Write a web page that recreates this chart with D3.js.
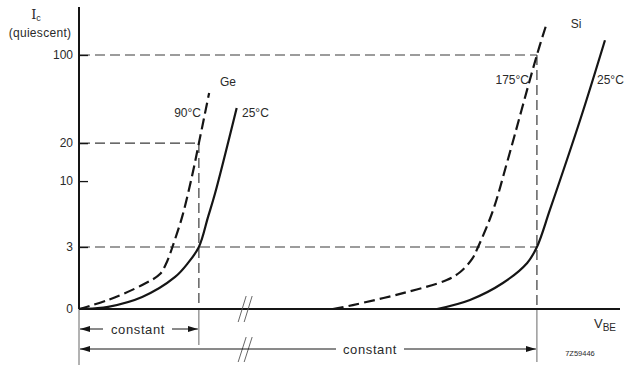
<!DOCTYPE html>
<html>
<head>
<meta charset="utf-8">
<title>Ic quiescent vs VBE</title>
<script src="https://cdn.jsdelivr.net/npm/d3@7/dist/d3.min.js"></script>
<style>
  body { margin: 0; background: #fff; }
  text { font-family: "Liberation Sans", "DejaVu Sans", sans-serif; fill: #2a2a2a; }
</style>
</head>
<body>
<svg width="626" height="365" id="mainsvg"></svg>
<script>
// values: [V_BE (arbitrary units, 0..100), Ic]
const ge90 = [[0, 0], [5.4, 0.44], [11.7, 1.16], [15, 1.69], [16.1, 2.18], [16.85, 2.66], [17.3, 3], [19.1, 5.2], [20.9, 10.8], [22.2, 20], [24.1, 50]]
const ge25 = [[0, 0], [3, 0.03], [5.4, 0.1], [11.7, 0.58], [17.8, 1.55], [20.2, 2.23], [22.2, 3], [23.9, 5.2], [25.2, 8], [29.2, 38]]
const si175 = [[47, 0], [50.7, 0.19], [60, 0.77], [68.1, 1.4], [70.6, 1.79], [72.8, 2.42], [73.9, 3], [76.7, 5.9], [79.4, 14.7], [84.8, 100], [86.7, 183]]
const si25 = [[66.3, 0], [72.4, 0.44], [78.5, 1.26], [83, 2.23], [84.8, 3], [87.2, 5.9], [92.8, 30.5], [97.4, 131]]

const yTicks = [3, 10, 20, 100]
const geMark = 22.2   // V_BE where Ge curves are read
const siMark = 84.8   // V_BE where Si curves are read
const breakAt = 30.4

const svg = d3.select('#mainsvg')

// x: arbitrary V_BE units
const x = d3.scaleLinear().domain([0, 100]).range([79, 619])
// y: linear from 0 to 3, log above 3
const yLog = d3.scaleLog().domain([3, 100]).range([247, 55])
const yLin = d3.scaleLinear().domain([0, 3]).range([309, 247])
const y = v => v >= 3 ? yLog(v) : yLin(v)

const ink = '#151515'
const guide = '#3a3a3a'

// arrow markers
const defs = svg.append('defs')
defs.append('marker').attr('id', 'arrEnd')
    .attr('viewBox', '0 0 10 6').attr('refX', 10).attr('refY', 3)
    .attr('markerWidth', 10).attr('markerHeight', 6).attr('markerUnits', 'userSpaceOnUse')
    .attr('orient', 'auto')
    .append('path').attr('d', 'M0,0L10,3L0,6Z').attr('fill', ink)
defs.append('marker').attr('id', 'arrStart')
    .attr('viewBox', '0 0 10 6').attr('refX', 0).attr('refY', 3)
    .attr('markerWidth', 10).attr('markerHeight', 6).attr('markerUnits', 'userSpaceOnUse')
    .attr('orient', 'auto')
    .append('path').attr('d', 'M10,0L0,3L10,6Z').attr('fill', ink)

// dashed reading guides
const guides = svg.append('g')
    .attr('stroke', guide).attr('stroke-width', 1.2).attr('stroke-dasharray', '10,5').attr('fill', 'none')
const hGuides = [[100, siMark], [20, geMark], [3, siMark]]
hGuides.forEach(([lvl, to]) => {
    guides.append('line').attr('x1', x(0) + 1).attr('x2', x(to)).attr('y1', y(lvl)).attr('y2', y(lvl))
})
const vGuides = [[geMark, 20], [siMark, 100]]
vGuides.forEach(([v, lvl]) => {
    guides.append('line').attr('x1', x(v)).attr('x2', x(v)).attr('y1', y(lvl)).attr('y2', y(0))
})

// thin extension lines below the axis
const ext = svg.append('g').attr('stroke', '#555').attr('stroke-width', 0.9)
ext.append('line').attr('x1', x(0)).attr('x2', x(0)).attr('y1', y(0)).attr('y2', 365)
ext.append('line').attr('x1', x(geMark)).attr('x2', x(geMark)).attr('y1', y(0)).attr('y2', 345)
ext.append('line').attr('x1', x(siMark)).attr('x2', x(siMark)).attr('y1', y(0)).attr('y2', 362)

// axes
svg.append('line').attr('x1', x(0)).attr('x2', x(0)).attr('y1', 7).attr('y2', y(0))
    .attr('stroke', ink).attr('stroke-width', 2)
svg.append('line').attr('x1', x(0)).attr('x2', 620).attr('y1', y(0)).attr('y2', y(0))
    .attr('stroke', ink).attr('stroke-width', 2)

const axLog = d3.axisLeft(yLog).tickValues(yTicks).tickFormat(d3.format('d'))
    .tickSizeInner(-9).tickSizeOuter(0).tickPadding(6)
const axLin = d3.axisLeft(yLin).tickValues([0]).tickFormat(d3.format('d'))
    .tickSizeInner(0).tickSizeOuter(0).tickPadding(6)
;[axLog, axLin].forEach(ax => {
    const g = svg.append('g').attr('transform', `translate(${x(0)},0)`).call(ax)
    g.select('.domain').remove()
    g.selectAll('line').attr('stroke', ink).attr('stroke-width', 1.3)
    g.selectAll('text').attr('font-size', 12).attr('fill', '#2a2a2a')
        .style('font-family', '"Liberation Sans", sans-serif')
})

// curves
const line = d3.line().x(d => x(d[0])).y(d => y(d[1])).curve(d3.curveCatmullRom.alpha(0.5))
const curves = [
    {data: ge90, dash: '11,5'},
    {data: ge25, dash: null},
    {data: si175, dash: '11,5'},
    {data: si25, dash: null}
]
svg.append('g').selectAll('path').data(curves).join('path')
    .attr('d', d => line(d.data))
    .attr('fill', 'none').attr('stroke', ink).attr('stroke-width', 2.2)
    .attr('stroke-dasharray', d => d.dash)

// axis break marks
const breaks = [[296, 322], [337, 362]]
breaks.forEach(([t, b]) => {
    [0, 6].forEach(off => {
        svg.append('line')
            .attr('x1', x(breakAt) - 5 + off).attr('y1', b)
            .attr('x2', x(breakAt) + 3 + off).attr('y2', t)
            .attr('stroke', '#555').attr('stroke-width', 0.9)
    })
})

// "constant" dimension arrows
const dims = [
    {from: 0, to: geMark, yy: 329, tx: 138, gap: [103, 172]},
    {from: 0, to: siMark, yy: 349, tx: 370, gap: [336, 404]}
]
dims.forEach(d => {
    svg.append('line').attr('x1', x(d.from) + 1).attr('x2', d.gap[0]).attr('y1', d.yy).attr('y2', d.yy)
        .attr('stroke', ink).attr('stroke-width', 1).attr('marker-start', 'url(#arrStart)')
    svg.append('line').attr('x1', d.gap[1]).attr('x2', x(d.to) - 1).attr('y1', d.yy).attr('y2', d.yy)
        .attr('stroke', ink).attr('stroke-width', 1).attr('marker-end', 'url(#arrEnd)')
    svg.append('text').attr('x', d.tx).attr('y', d.yy + 4.5)
        .attr('text-anchor', 'middle').attr('font-size', 13).attr('letter-spacing', 0.6)
        .text('constant')
})

// labels
const ylab = svg.append('text').attr('x', 36).attr('y', 19).attr('text-anchor', 'middle').attr('font-size', 13)
ylab.append('tspan').style('font-family', '"DejaVu Serif", serif').text('I')
ylab.append('tspan').attr('font-size', 9).attr('dy', 2).text('c')
svg.append('text').attr('x', 40).attr('y', 37).attr('text-anchor', 'middle').attr('font-size', 12)
    .attr('letter-spacing', 0.3).text('(quiescent)')

const labels = [
    {t: 'Ge', x: 228, y: 86, a: 'middle'},
    {t: '90°C', x: 201, y: 117, a: 'end'},
    {t: '25°C', x: 242, y: 117, a: 'start'},
    {t: 'Si', x: 576, y: 28, a: 'middle'},
    {t: '175°C', x: 529, y: 84, a: 'end'},
    {t: '25°C', x: 597, y: 84, a: 'start'}
]
svg.append('g').selectAll('text').data(labels).join('text')
    .attr('x', d => d.x).attr('y', d => d.y).attr('text-anchor', d => d.a)
    .attr('font-size', 12).text(d => d.t)

const vbe = svg.append('text').attr('x', 594).attr('y', 328).attr('font-size', 13)
vbe.append('tspan').text('V')
vbe.append('tspan').attr('font-size', 10).attr('dy', 3).text('BE')

svg.append('text').attr('x', 580).attr('y', 356).attr('text-anchor', 'middle')
    .attr('font-size', 7.5).attr('fill', '#555').text('7Z59446')
</script>
</body>
</html>
